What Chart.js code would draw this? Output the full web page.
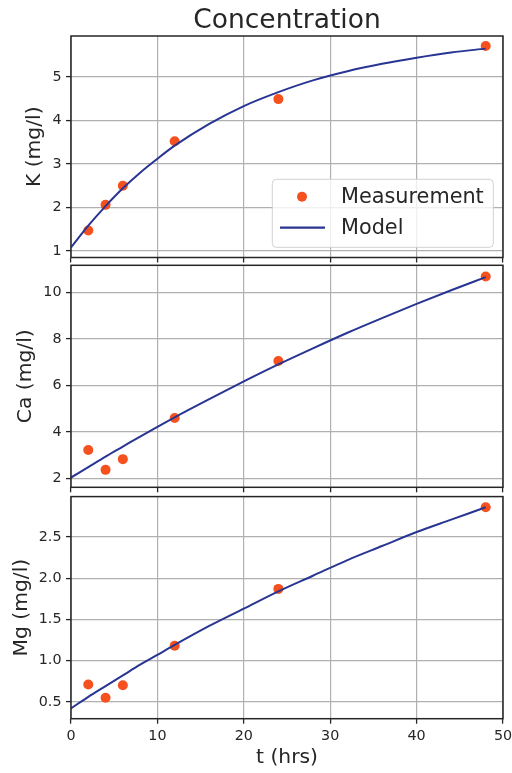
<!DOCTYPE html>
<html><head><meta charset="utf-8">
<script src="https://cdn.jsdelivr.net/npm/chart.js@4/dist/chart.umd.min.js"></script>
<style>
html,body{margin:0;padding:0;background:#fff;width:512px;height:773px;overflow:hidden}
canvas{position:absolute;left:0;top:0}
</style></head>
<body>
<canvas id="c1" width="512" height="773"></canvas>
<canvas id="c2" width="512" height="773"></canvas>
<canvas id="c3" width="512" height="773"></canvas>
<script>
// ---- data ----
const measTimes   = [2, 4, 6, 12, 24, 48];
const kMeasured   = [1.47, 2.06, 2.50, 3.52, 4.49, 5.71];
const caMeasured  = [3.22, 2.37, 2.83, 4.60, 7.05, 10.68];
const mgMeasured  = [0.71, 0.55, 0.70, 1.18, 1.87, 2.86];

const modelTimes  = [0, 2, 4, 6, 8, 10, 12, 16, 20, 24, 28, 32, 36, 40, 44, 48];
const kModel      = [1.08, 1.58, 2.03, 2.44, 2.80, 3.12, 3.42, 3.92, 4.33, 4.65, 4.92, 5.13, 5.30, 5.44, 5.56, 5.65];
const caModel     = [2.04, 2.49, 2.94, 3.37, 3.80, 4.22, 4.63, 5.41, 6.17, 6.90, 7.59, 8.26, 8.89, 9.50, 10.09, 10.65];
const mgModel     = [0.42, 0.56, 0.69, 0.82, 0.95, 1.07, 1.19, 1.42, 1.63, 1.84, 2.03, 2.22, 2.39, 2.56, 2.71, 2.86];

const xTicks  = [0, 10, 20, 30, 40, 50];
const kTicks  = [1, 2, 3, 4, 5];
const caTicks = [2, 4, 6, 8, 10];
const mgTicks = [0.5, 1.0, 1.5, 2.0, 2.5];

const titleText    = 'Concentration';
const xLabel       = 't (hrs)';
const seriesLabels = ['Measurement', 'Model'];
const yLabels      = ['K (mg/l)', 'Ca (mg/l)', 'Mg (mg/l)'];

// ---- style ----
const FONT = "'DejaVu Sans', sans-serif";
const INK = '#262626';
const GRID = '#b0b0b0';
const MEAS_COLOR = '#f4511e';
const MODEL_COLOR = '#283593';
const TICK_SIZE = 14.3;

const pairs = (xs, ys) => xs.map((x, i) => ({x: x, y: ys[i]}));

const framePlugin = {
  id: 'frame',
  afterDatasetsDraw(chart) {
    const a = chart.chartArea, ctx = chart.ctx;
    ctx.save();
    ctx.strokeStyle = INK;
    ctx.lineWidth = 1.5;
    ctx.strokeRect(a.left, a.top, a.right - a.left, a.bottom - a.top);
    ctx.restore();
  }
};

const titlePlugin = {
  id: 'figTitle',
  afterDraw(chart) {
    const a = chart.chartArea, ctx = chart.ctx;
    ctx.save();
    ctx.font = "26.5px " + FONT;
    ctx.fillStyle = INK;
    ctx.textAlign = 'center';
    ctx.textBaseline = 'alphabetic';
    ctx.fillText(titleText, (a.left + a.right) / 2, a.top - 8.5);
    ctx.restore();
  }
};

const legendPlugin = {
  id: 'innerLegend',
  afterDraw(chart) {
    const a = chart.chartArea, ctx = chart.ctx;
    const w = 221, h = 68;
    const x0 = a.right - 9.7 - w, y0 = a.bottom - 10.2 - h;
    ctx.save();
    ctx.beginPath();
    ctx.roundRect(x0, y0, w, h, 4);
    ctx.fillStyle = 'rgba(255,255,255,0.8)';
    ctx.fill();
    ctx.strokeStyle = 'rgba(204,204,204,0.9)';
    ctx.lineWidth = 1;
    ctx.stroke();
    // marker
    ctx.beginPath();
    ctx.arc(x0 + 29.7, y0 + 17.4, 5, 0, Math.PI * 2);
    ctx.fillStyle = MEAS_COLOR;
    ctx.fill();
    // line
    ctx.beginPath();
    ctx.moveTo(x0 + 7.7, y0 + 48.4);
    ctx.lineTo(x0 + 52.7, y0 + 48.4);
    ctx.strokeStyle = MODEL_COLOR;
    ctx.lineWidth = 2.2;
    ctx.stroke();
    ctx.font = "20.8px " + FONT;
    ctx.fillStyle = INK;
    ctx.textAlign = 'left';
    ctx.textBaseline = 'alphabetic';
    ctx.fillText(seriesLabels[0], x0 + 68.7, y0 + 24);
    ctx.fillText(seriesLabels[1], x0 + 68.7, y0 + 54.7);
    ctx.restore();
  }
};

function makePanel(id, o) {
  const plugins = [framePlugin].concat(o.extraPlugins || []);
  return new Chart(document.getElementById(id), {
    type: 'scatter',
    data: {
      datasets: [
        {
          type: 'line',
          label: seriesLabels[1],
          data: pairs(modelTimes, o.model),
          borderColor: MODEL_COLOR,
          borderWidth: 2,
          pointRadius: 0,
          fill: false,
          tension: 0.4,
          cubicInterpolationMode: 'monotone',
          order: 0
        },
        {
          type: 'scatter',
          label: seriesLabels[0],
          data: pairs(measTimes, o.meas),
          backgroundColor: MEAS_COLOR,
          borderWidth: 0,
          pointRadius: 5,
          pointHoverRadius: 5,
          order: 1
        }
      ]
    },
    options: {
      responsive: false,
      devicePixelRatio: 1,
      animation: false,
      events: [],
      layout: { padding: { left: 0, right: 9, top: o.top, bottom: o.bottom } },
      plugins: { legend: { display: false }, tooltip: { enabled: false }, title: { display: false } },
      scales: {
        x: {
          type: 'linear',
          min: 0, max: 50,
          afterBuildTicks: s => { s.ticks = xTicks.map(v => ({value: v})); },
          afterFit: s => { s.height = o.xHeight; s.paddingLeft = 0; s.paddingRight = 0; },
          grid: { color: GRID, lineWidth: 1.2, drawTicks: true, tickLength: 5, tickColor: INK, tickWidth: 1.3 },
          border: { display: false },
          ticks: {
            display: o.showX,
            padding: 3.8,
            color: INK,
            font: { family: FONT, size: TICK_SIZE, lineHeight: 1.2 },
            maxRotation: 0,
            callback: v => String(v)
          },
          title: {
            display: o.showX,
            text: xLabel,
            color: INK,
            font: { family: FONT, size: 20.3, lineHeight: 1 },
            padding: { top: 0, bottom: 5.2 }
          }
        },
        y: {
          type: 'linear',
          min: o.ymin, max: o.ymax,
          afterBuildTicks: s => { s.ticks = o.yTicks.map(v => ({value: v})); },
          afterFit: s => { s.width = 71; s.paddingTop = 0; s.paddingBottom = 0; },
          grid: { color: GRID, lineWidth: 1.2, drawTicks: true, tickLength: 5, tickColor: INK, tickWidth: 1.3 },
          border: { display: false },
          ticks: {
            padding: 4.5,
            color: INK,
            font: { family: FONT, size: TICK_SIZE, lineHeight: 1.2 },
            callback: o.fmt
          },
          title: {
            display: true,
            text: o.yLabel,
            color: INK,
            font: { family: FONT, size: 20.3, lineHeight: 1 },
            padding: { top: o.yTitlePad, bottom: 0 }
          }
        }
      }
    },
    plugins: plugins
  });
}

const H = 773;
makePanel('c1', {
  model: kModel, meas: kMeasured, yTicks: kTicks, ymin: 0.85, ymax: 5.94,
  yLabel: yLabels[0], yTitlePad: 24.7, fmt: v => String(v),
  top: 36, bottom: H - 257.5 - 5, xHeight: 5, showX: false,
  extraPlugins: [titlePlugin, legendPlugin]
});
makePanel('c2', {
  model: caModel, meas: caMeasured, yTicks: caTicks, ymin: 1.62, ymax: 11.16,
  yLabel: yLabels[1], yTitlePad: 16.0, fmt: v => String(v),
  top: 265.3, bottom: H - 487.3 - 5, xHeight: 5, showX: false
});
makePanel('c3', {
  model: mgModel, meas: mgMeasured, yTicks: mgTicks, ymin: 0.295, ymax: 2.99,
  yLabel: yLabels[2], yTitlePad: 11.3, fmt: v => Number(v).toFixed(1),
  top: 496.6, bottom: 0, xHeight: H - 718.7, showX: true
});
</script>
</body></html>
